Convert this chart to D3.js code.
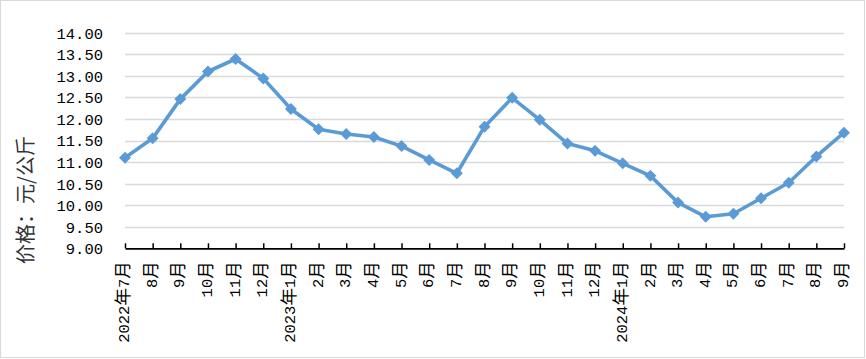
<!DOCTYPE html>
<html><head><meta charset="utf-8">
<script src="https://cdn.jsdelivr.net/npm/d3@7"></script>
<style>
html,body{margin:0;padding:0;background:#fff;}
svg{display:block;}
</style></head>
<body>
<svg id="chart" width="866" height="359"></svg>
<script>
const categories = ["2022年7月","8月","9月","10月","11月","12月",
  "2023年1月","2月","3月","4月","5月","6月","7月","8月","9月","10月","11月","12月",
  "2024年1月","2月","3月","4月","5月","6月","7月","8月","9月"];
const prices = [11.10,11.55,12.46,13.10,13.39,12.94,
  12.23,11.76,11.65,11.58,11.37,11.05,10.74,11.82,12.49,11.98,11.43,11.26,
  10.97,10.68,10.06,9.73,9.80,10.16,10.52,11.13,11.68];
const yTicks = [9,9.5,10,10.5,11,11.5,12,12.5,13,13.5,14];
const yTitle = "价格：元/公斤";

(function(){
const svg = d3.select("#chart");
const W = 866, H = 359;
const mLeft = 125, mRight = 844, mTop = 32.7, mBottom = 248.3;
const monoFam = "'Liberation Mono',monospace";
const cjkFam = "'Noto Sans CJK SC',sans-serif";

svg.append("rect").attr("x",0.5).attr("y",0.5).attr("width",W-2).attr("height",H-2)
  .attr("fill","#fff").attr("stroke","#d9d9d9").attr("stroke-width",1);

const x = d3.scalePoint().domain(d3.range(categories.length)).range([mLeft,mRight]);
const y = d3.scaleLinear().domain([9,14]).range([mBottom,mTop]);

// gridlines
svg.append("g").selectAll("line").data(yTicks.filter(t=>t>9)).join("line")
  .attr("x1",mLeft).attr("x2",mRight)
  .attr("y1",d=>Math.round(y(d))+0.5).attr("y2",d=>Math.round(y(d))+0.5)
  .attr("stroke","#d9d9d9").attr("stroke-width",1.5);

// y axis labels
const yAxis = d3.axisLeft(y).tickValues(yTicks).tickSize(0).tickFormat(d=>d3.format(".2f")(d));
const gy = svg.append("g").attr("transform",`translate(${mLeft-22},0)`).call(yAxis);
gy.select(".domain").remove();
gy.selectAll("text").attr("font-family",monoFam).attr("font-size","15.5px")
  .attr("fill","#000").attr("dy","0.35em").attr("x",0);

// x axis
const xAxis = d3.axisBottom(x).tickSize(-5).tickSizeOuter(0).tickFormat(()=> "");
const gx = svg.append("g").attr("transform",`translate(0,${mBottom})`).call(xAxis);
gx.select(".domain").attr("stroke","#000").attr("stroke-width",1.8);
gx.selectAll(".tick line").attr("stroke","#000").attr("stroke-width",1.5);
gx.selectAll(".tick text").each(function(i){
  const t = d3.select(this);
  t.text(null).attr("fill","#000")
    .attr("transform","rotate(-90)").attr("text-anchor","end")
    .attr("x",-13).attr("y",0).attr("dy","0.36em");
  const runs = categories[i].match(/[\u4e00-\u9fff]+|[^\u4e00-\u9fff]+/g);
  runs.forEach(r=>{
    const cjk = /[\u4e00-\u9fff]/.test(r);
    t.append("tspan").text(r)
      .attr("font-family",cjk?cjkFam:monoFam)
      .attr("font-size",cjk?"17.5px":"15.5px");
  });
});

// line
const line = d3.line().x((d,i)=>x(i)).y(d=>y(d));
svg.append("path").datum(prices).attr("d",line)
  .attr("fill","none").attr("stroke","#5b9bd5").attr("stroke-width",3.6)
  .attr("stroke-linejoin","round");

// markers
const diamond = d3.symbol().type(d3.symbolDiamond2).size(62);
svg.append("g").selectAll("path").data(prices).join("path")
  .attr("d",diamond)
  .attr("transform",(d,i)=>`translate(${x(i)},${y(d)})`)
  .attr("fill","#5b9bd5").attr("stroke","#5b9bd5").attr("stroke-width",1.5);

// y title
svg.append("text").attr("transform","translate(26,200) rotate(-90)")
  .attr("text-anchor","middle").attr("dy","0.35em")
  .attr("font-family",cjkFam).attr("font-size","20px")
  .attr("fill","#333").text(yTitle);
})();
</script>
</body></html>
